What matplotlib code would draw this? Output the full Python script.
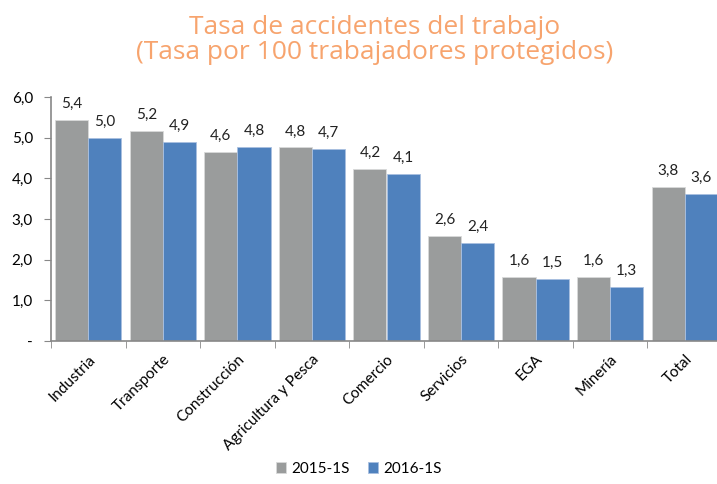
import matplotlib.pyplot as plt
import numpy as np

categorias = ['Industria', 'Transporte', 'Construcción', 'Agricultura y Pesca',
              'Comercio', 'Servicios', 'EGA', 'Minería', 'Total']
tasa_2015 = [5.44, 5.16, 4.64, 4.76, 4.23, 2.58, 1.58, 1.57, 3.78]
tasa_2016 = [5.00, 4.90, 4.77, 4.72, 4.11, 2.41, 1.52, 1.34, 3.61]
series = ['2015-1S', '2016-1S']
yticks = [0, 1, 2, 3, 4, 5, 6]

gris = '#9a9c9c'
azul = '#4f81bd'
naranja = '#f7a46e'

plt.rcParams['font.family'] = ['Lato', 'DejaVu Sans']

fig = plt.figure(figsize=(7.17, 4.84), dpi=100)
ax = fig.add_axes([51 / 717, 143 / 484, 671 / 717, 244 / 484])

x = np.arange(len(categorias))
w = 0.445
b1 = ax.bar(x - w / 2, tasa_2015, w, color=gris, edgecolor='#d9d9d9', linewidth=0.6, label=series[0])
b2 = ax.bar(x + w / 2, tasa_2016, w, color=azul, edgecolor='#a9c0e0', linewidth=0.6, label=series[1])

# etiquetas de datos
for barras, vals in ((b1, tasa_2015), (b2, tasa_2016)):
    for r, v in zip(barras, vals):
        ax.text(r.get_x() + r.get_width() / 2, v + 0.22, f'{v:.1f}'.replace('.', ','),
                ha='center', va='bottom', fontsize=11, color='#222222')

ax.set_xlim(-0.5, len(categorias) - 0.5)
ax.set_ylim(0, 6)
ax.set_yticks(yticks)
ax.set_yticklabels(['-' if t == 0 else f'{t:.1f}'.replace('.', ',') for t in yticks], fontsize=11)

ax.set_xticks(x)
ax.set_xticklabels(categorias, rotation=45, ha='right', rotation_mode='anchor', fontsize=11)
ax.tick_params(axis='x', which='major', length=0, pad=8)
ax.set_xticks(np.arange(-0.5, len(categorias), 1), minor=True)
ax.tick_params(axis='x', which='minor', length=5, color='#888888', direction='out')
ax.tick_params(axis='y', length=5, color='#888888', pad=8)

for s in ['top', 'right']:
    ax.spines[s].set_visible(False)
ax.spines['left'].set_color('#888888')
ax.spines['bottom'].set_color('#888888')
ax.spines['left'].set_linewidth(1.2)
ax.spines['bottom'].set_linewidth(1.2)

fig.text(0.522, 0.970, 'Tasa de accidentes del trabajo\n(Tasa por 100 trabajadores protegidos)',
         ha='center', va='top', fontsize=19, color=naranja, family=['Open Sans', 'DejaVu Sans'],
         linespacing=1.05)

fig.legend(handles=[b1, b2], labels=series, loc='lower center', bbox_to_anchor=(0.5, -0.012),
           ncol=2, frameon=False, fontsize=11, handlelength=0.7, handleheight=0.7,
           handletextpad=0.3, columnspacing=1.2)

plt.savefig('out.png', dpi=100)
plt.close()
